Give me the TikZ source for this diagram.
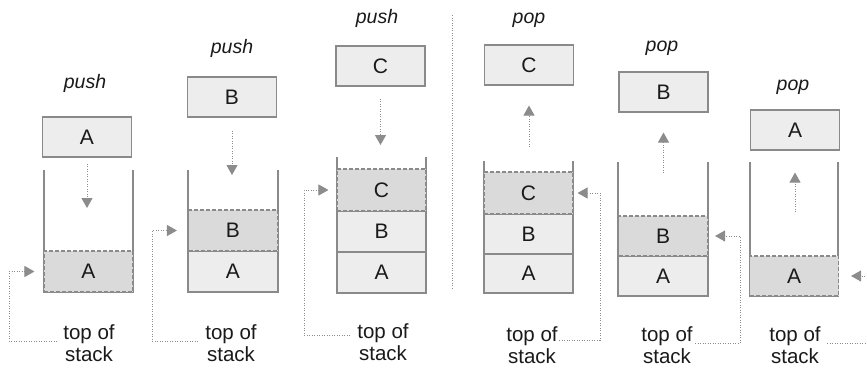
\documentclass[tikz,border=0pt]{standalone}
\usepackage{fontspec}
\setmainfont{Liberation Sans}
\usetikzlibrary{arrows.meta}
\definecolor{edge}{HTML}{8A8A8A}
\definecolor{boxfill}{HTML}{EDEDED}
\definecolor{topfill}{HTML}{DADADA}
\definecolor{arr}{HTML}{8C8C8C}
\definecolor{ink}{HTML}{1A1A1A}
\begin{document}
\begin{tikzpicture}[x=1pt,y=-1pt,
  cell/.style={draw=edge, line width=1.1pt, fill=boxfill, minimum width=89pt, minimum height=41pt,
    inner sep=0pt, font=\fontsize{21}{21}\selectfont, text=ink},
  topcell/.style={cell, fill=topfill, dash pattern=on 4pt off 2pt},
  floatbox/.style={cell, minimum height=40pt},
  wall/.style={draw=edge, line width=1.4pt},
  move/.style={draw=arr, line width=1pt, dash pattern=on 1pt off 1.5pt,
    -{Triangle[length=10pt,width=11pt]}},
  oplabel/.style={font=\fontsize{19.5}{19.5}\selectfont\itshape, text=ink},
  toslabel/.style={align=center, font=\fontsize{20.5}{22}\selectfont, text=ink, inner sep=0pt},
  divider/.style={draw=arr, line width=0.8pt, dash pattern=on 1pt off 1.5pt}
]
\useasboundingbox (0,0) rectangle (867,367);
\clip (0,0) rectangle (867,367);
\fill[white] (0,0) rectangle (867,367);

% ---------- stack 1 (push A) ----------
\draw[wall] (44,170) -- (44,292) -- (133,292) -- (133,170);
\node[topcell] (A1) at (88.5,271.5) {A};
\node[floatbox] (fA1) at (87,137) {A};
\node[oplabel] (op1) at (85,83) {push};
\coordinate (d1) at (87,208);
\draw[move] ([yshift=-6pt]fA1.south) -- (fA1.south |- d1);
\node[toslabel] (t1) at (89,343.5) {top of\\stack};
\coordinate (s1) at (57,341);
\coordinate (k1) at (9,341);
\draw[move] (s1) -- (k1) |- ([xshift=-9pt]A1.west);

% ---------- stack 2 (push B) ----------
\draw[wall] (188,170) -- (188,292) -- (278,292) -- (278,170);
\node[cell] (A2) at (233,271.5) {A};
\node[topcell] (B2) at (233,230.5) {B};
\node[floatbox] (fB2) at (232,97) {B};
\node[oplabel] (op2) at (232,48) {push};
\coordinate (d2) at (232,175);
\draw[move] ([yshift=-13pt]fB2.south) -- (fB2.south |- d2);
\node[toslabel] (t2) at (231,343.5) {top of\\stack};
\coordinate (s2) at (198,341);
\coordinate (k2) at (152,341);
\draw[move] (s2) -- (k2) |- ([xshift=-11pt]B2.west);

% ---------- stack 3 (push C) ----------
\draw[wall] (337,157) -- (337,293) -- (426,293) -- (426,157);
\node[cell] (A3) at (381.5,272.5) {A};
\node[cell] (B3) at (381.5,231.5) {B};
\node[topcell, minimum height=42pt] (C3) at (381.5,190) {C};
\node[floatbox] (fC3) at (380.5,66) {C};
\node[oplabel] (op3) at (377,18) {push};
\coordinate (d3) at (381,145);
\draw[move] ([yshift=-12pt]fC3.south) -- (fC3.south |- d3);
\node[toslabel] (t3) at (383,342.5) {top of\\stack};
\coordinate (s3) at (350,335);
\coordinate (k3) at (304,335);
\draw[move] (s3) -- (k3) |- ([xshift=-8pt]C3.west);

% ---------- divider ----------
\coordinate (v1) at (452,15);
\coordinate (v2) at (452,290);
\draw[divider] (v1) -- (v2);

% ---------- stack 4 (pop C) ----------
\draw[wall] (484,161) -- (484,293) -- (573,293) -- (573,161);
\node[cell, minimum height=39pt] (A4) at (528.5,273.5) {A};
\node[cell, minimum height=40pt] (B4) at (528.5,234) {B};
\node[topcell, minimum height=42pt] (C4) at (528.5,193) {C};
\node[floatbox] (fC4) at (529,65) {C};
\node[oplabel] (op4) at (529,20) {pop};
\coordinate (u4) at (529,147);
\draw[move] (fC4.south |- u4) -- ([yshift=-20pt]fC4.south);
\node[toslabel] (t4) at (532,345) {top of\\stack};
\coordinate (s4) at (559,340);
\coordinate (k4) at (600,340);
\draw[move] (s4) -- (k4) |- ([xshift=4pt]C4.east);

% ---------- stack 5 (pop B) ----------
\draw[wall] (618,162) -- (618,296) -- (708,296) -- (708,162);
\node[cell, minimum height=40pt] (A5) at (663,276) {A};
\node[topcell, minimum height=40pt] (B5) at (663,236) {B};
\node[floatbox] (fB5) at (663.5,92) {B};
\node[oplabel] (op5) at (662,48) {pop};
\coordinate (u5) at (663,173);
\draw[move] (fB5.south |- u5) -- ([yshift=-20pt]fB5.south);
\node[toslabel] (t5) at (667,345.5) {top of\\stack};
\coordinate (s5) at (695,343);
\coordinate (k5) at (740,343);
\draw[move] (s5) -- (k5) |- ([xshift=7pt]B5.east);

% ---------- stack 6 (pop A) ----------
\draw[wall] (750,162) -- (750,296) -- (838,296) -- (838,162);
\node[topcell, minimum height=40pt] (A6) at (794,276) {A};
\node[floatbox] (fA6) at (795,130) {A};
\node[oplabel] (op6) at (793,87) {pop};
\coordinate (u6) at (795,212);
\draw[move] (fA6.south |- u6) -- ([yshift=-22pt]fA6.south);
\node[toslabel] (t6) at (795,345.5) {top of\\stack};
\coordinate (s6) at (827,343);
\coordinate (k6) at (885,343);
\draw[move] (s6) -- (k6) |- ([xshift=12pt]A6.east);
\end{tikzpicture}
\end{document}
